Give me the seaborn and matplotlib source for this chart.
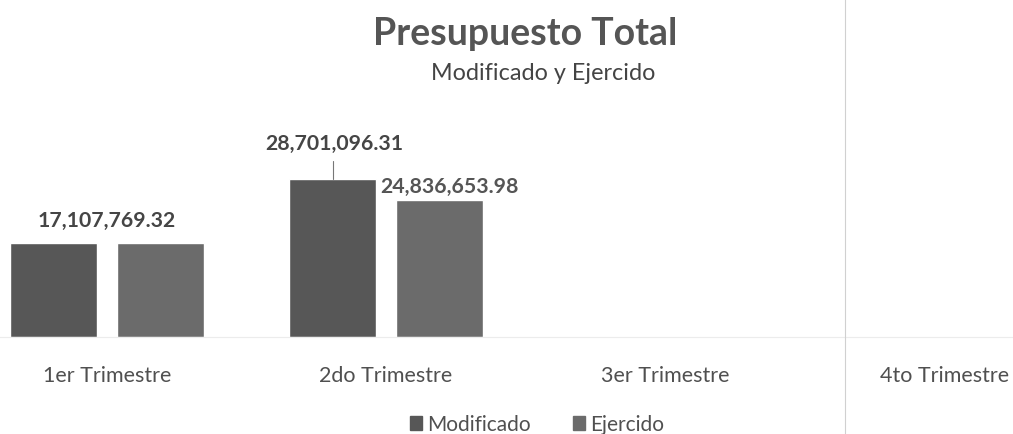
import pandas as pd
import numpy as np
import matplotlib
matplotlib.use("Agg")
import matplotlib.pyplot as plt
from matplotlib.lines import Line2D
import seaborn as sns

##Data
trimestres = ["1er Trimestre", "2do Trimestre", "3er Trimestre", "4to Trimestre"]
modificado = [17107769.32, 28701096.31, 0, 0]
ejercido = [17107769.32, 24836653.98, 0, 0]
series = ["Modificado", "Ejercido"]
colores = ["#575757", "#6b6b6b"]

df = pd.DataFrame({
    "trimestre": trimestres * 2,
    "serie": [series[0]] * 4 + [series[1]] * 4,
    "monto": modificado + ejercido,
})

sns.set_theme(style="white")
plt.rcParams["font.family"] = ["Lato", "DejaVu Sans"]

fig = plt.figure(figsize=(10.13, 4.35), dpi=100)
ax = fig.add_axes([0, (435 - 338) / 435, 1, 218 / 435])

sns.barplot(data=df, x="trimestre", y="monto", hue="serie", palette=colores,
            width=0.77, gap=0.19, ax=ax, legend=False, saturation=1)

ax.set_xlim(-0.384, 3.247)
ax.set_ylim(0, 39.6e6)
ax.set_xlabel("")
ax.set_ylabel("")
ax.set_yticks([])
for s in ["top", "left", "right"]:
    ax.spines[s].set_visible(False)
ax.spines["bottom"].set_color("#ececec")
ax.spines["bottom"].set_linewidth(0.8)
ax.tick_params(axis="x", length=0, pad=20, labelsize=15.5, colors="#505050")

##Data labels
lab_col = "#454545"
ax.text(0, modificado[0] + 4.15e6, f"{modificado[0]:,.2f}", ha="center", va="center",
        fontsize=15.3, fontweight="bold", color=lab_col)
ax.text(0.815, modificado[1] + 6.5e6, f"{modificado[1]:,.2f}", ha="center", va="center",
        fontsize=15.3, fontweight="bold", color=lab_col)
ax.plot([0.811, 0.811], [modificado[1], modificado[1] + 3.3e6], color="#777777", lw=0.8)
ax.text(0.978, ejercido[1] + 2.6e6, f"{ejercido[1]:,.2f}", ha="left", va="center",
        fontsize=15.3, fontweight="bold", color="#555555")

##Titles
fig.text(0.518, 0.922, "Presupuesto Total", ha="center", va="center",
         fontsize=27, fontweight="bold", color="#555555")
fig.text(0.536, 0.830, "Modificado y Ejercido", ha="center", va="center",
         fontsize=16.8, color="#444444")

##Legend
handles = [plt.Rectangle((0, 0), 1, 1, color=c) for c in colores]
fig.legend(handles, series, loc="center", bbox_to_anchor=(0.530, 0.022), ncol=2,
           frameon=False, fontsize=15, handlelength=0.6, handleheight=0.6,
           handletextpad=0.25, columnspacing=2.0, labelcolor="#505050",
           borderpad=0, borderaxespad=0)

##Scan edge line
fig.add_artist(Line2D([0.834, 0.834], [0, 1], transform=fig.transFigure,
                      color="#d0d0d0", lw=0.8))

fig.savefig("out.png", dpi=100)
